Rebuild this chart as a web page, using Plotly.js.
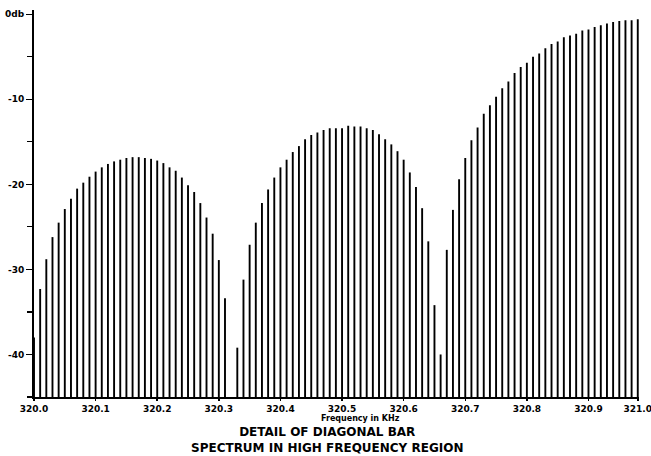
<!DOCTYPE html>
<html>
<head>
<meta charset="utf-8">
<script src="https://cdn.plot.ly/plotly-3.0.1.min.js"></script>
<style>
  html, body { margin: 0; padding: 0; background: #ffffff; }
  #chart { width: 651px; height: 456px; }
</style>
</head>
<body>
<div id="chart"></div>
<script>
// Harmonic line frequencies (kHz)
const frequencies = [
  320.00, 320.01, 320.02, 320.03, 320.04, 320.05, 320.06, 320.07, 320.08, 320.09,
  320.10, 320.11, 320.12, 320.13, 320.14, 320.15, 320.16, 320.17, 320.18, 320.19,
  320.20, 320.21, 320.22, 320.23, 320.24, 320.25, 320.26, 320.27, 320.28, 320.29,
  320.30, 320.31, 320.32, 320.33, 320.34, 320.35, 320.36, 320.37, 320.38, 320.39,
  320.40, 320.41, 320.42, 320.43, 320.44, 320.45, 320.46, 320.47, 320.48, 320.49,
  320.50, 320.51, 320.52, 320.53, 320.54, 320.55, 320.56, 320.57, 320.58, 320.59,
  320.60, 320.61, 320.62, 320.63, 320.64, 320.65, 320.66, 320.67, 320.68, 320.69,
  320.70, 320.71, 320.72, 320.73, 320.74, 320.75, 320.76, 320.77, 320.78, 320.79,
  320.80, 320.81, 320.82, 320.83, 320.84, 320.85, 320.86, 320.87, 320.88, 320.89,
  320.90, 320.91, 320.92, 320.93, 320.94, 320.95, 320.96, 320.97, 320.98
];

// Line levels (dB)
const levelsDb = [
  -38.0, -32.3, -28.8, -26.2, -24.5, -22.9, -21.7, -20.5, -19.8, -19.1,
  -18.5, -18.0, -17.6, -17.3, -17.1, -16.9, -16.8, -16.8, -16.9, -17.0,
  -17.2, -17.5, -18.0, -18.4, -19.2, -20.1, -20.9, -22.2, -23.9, -25.8,
  -28.9, -33.4, null, -39.2, -31.2, -27.1, -24.5, -22.2, -20.6, -19.2,
  -18.0, -17.1, -16.2, -15.5, -14.7, -14.2, -13.9, -13.6, -13.4, -13.4,
  -13.4, -13.1, -13.2, -13.2, -13.4, -13.6, -14.1, -14.7, -15.3, -16.1,
  -17.1, -18.6, -20.3, -22.8, -26.7, -34.2, -40.0, -27.7, -23.0, -19.4,
  -16.9, -14.8, -13.3, -11.7, -10.7, -9.7, -8.7, -7.9, -6.9, -6.2,
  -5.7, -5.0, -4.6, -4.0, -3.5, -3.2, -2.7, -2.5, -2.3, -1.9,
  -1.8, -1.5, -1.3, -1.1, -0.9, -0.8, -0.7, -0.7, -0.6
];

const floorDb = -45;

// Axis ticks
const xTickVals = [320.0, 320.1, 320.2, 320.3, 320.4, 320.5, 320.6, 320.7, 320.8, 320.9, 320.98];
const xTickText = ['320.0', '320.1', '320.2', '320.3', '320.4', '320.5', '320.6', '320.7', '320.8', '320.9', '321.0'];
const yTickVals = [0, -10, -20, -30, -40];
const yTickText = ['0db', '-10', '-20', '-30', '-40'];

const xAxisLabel = 'Frequency in KHz';
const titleLines = ['DETAIL OF DIAGONAL BAR', 'SPECTRUM IN HIGH FREQUENCY REGION'];

// Build stems (vertical lines from the floor to each level)
const stemX = [], stemY = [];
frequencies.forEach((f, i) => {
  const v = levelsDb[i];
  if (v === null) return;
  stemX.push(f, f, null);
  stemY.push(floorDb, v, null);
});

const tickFont = { family: 'DejaVu Sans', size: 9, color: '#000', weight: 'bold' };

const data = [{
  type: 'scatter',
  mode: 'lines',
  x: stemX,
  y: stemY,
  line: { color: '#000000', width: 1.9 },
  connectgaps: false,
  hoverinfo: 'skip',
  showlegend: false
}];

const layout = {
  width: 651,
  height: 456,
  margin: { l: 34, r: 12, t: 10, b: 59 },
  paper_bgcolor: '#ffffff',
  plot_bgcolor: '#ffffff',
  showlegend: false,
  xaxis: {
    range: [320.0, 320.982],
    tickmode: 'array',
    tickvals: xTickVals,
    ticktext: xTickText,
    tickfont: tickFont,
    ticklabeloverflow: 'allow',
    ticks: 'outside',
    ticklen: 2,
    tickwidth: 1.5,
    tickcolor: '#000',
    showline: true,
    linecolor: '#000',
    linewidth: 2,
    showgrid: false,
    zeroline: false
  },
  yaxis: {
    range: [floorDb, 0.5],
    tickmode: 'array',
    tickvals: yTickVals,
    ticktext: yTickText,
    tickfont: tickFont,
    ticks: 'outside',
    ticklen: 6,
    tickwidth: 1.5,
    tickcolor: '#000',
    minor: { dtick: 5, tick0: 0, ticks: 'outside', ticklen: 5, tickwidth: 1.2, tickcolor: '#000', showgrid: false },
    showline: true,
    linecolor: '#000',
    linewidth: 2,
    showgrid: false,
    zeroline: false
  },
  annotations: [
    {
      text: xAxisLabel, xref: 'paper', yref: 'paper', x: 0.54, y: -0.0556,
      xanchor: 'center', yanchor: 'middle', showarrow: false, borderpad: 0,
      font: { family: 'DejaVu Sans', size: 8, color: '#000', weight: 'bold' }
    },
    {
      text: titleLines.join('<br>'), xref: 'paper', yref: 'paper', x: 0.484, y: -0.1111,
      xanchor: 'center', yanchor: 'middle', align: 'center', showarrow: false, borderpad: 0,
      font: { family: 'DejaVu Sans', size: 12, color: '#000', weight: 'bold' }
    }
  ]
};

Plotly.newPlot('chart', data, layout, { staticPlot: true, displayModeBar: false });
</script>
</body>
</html>
